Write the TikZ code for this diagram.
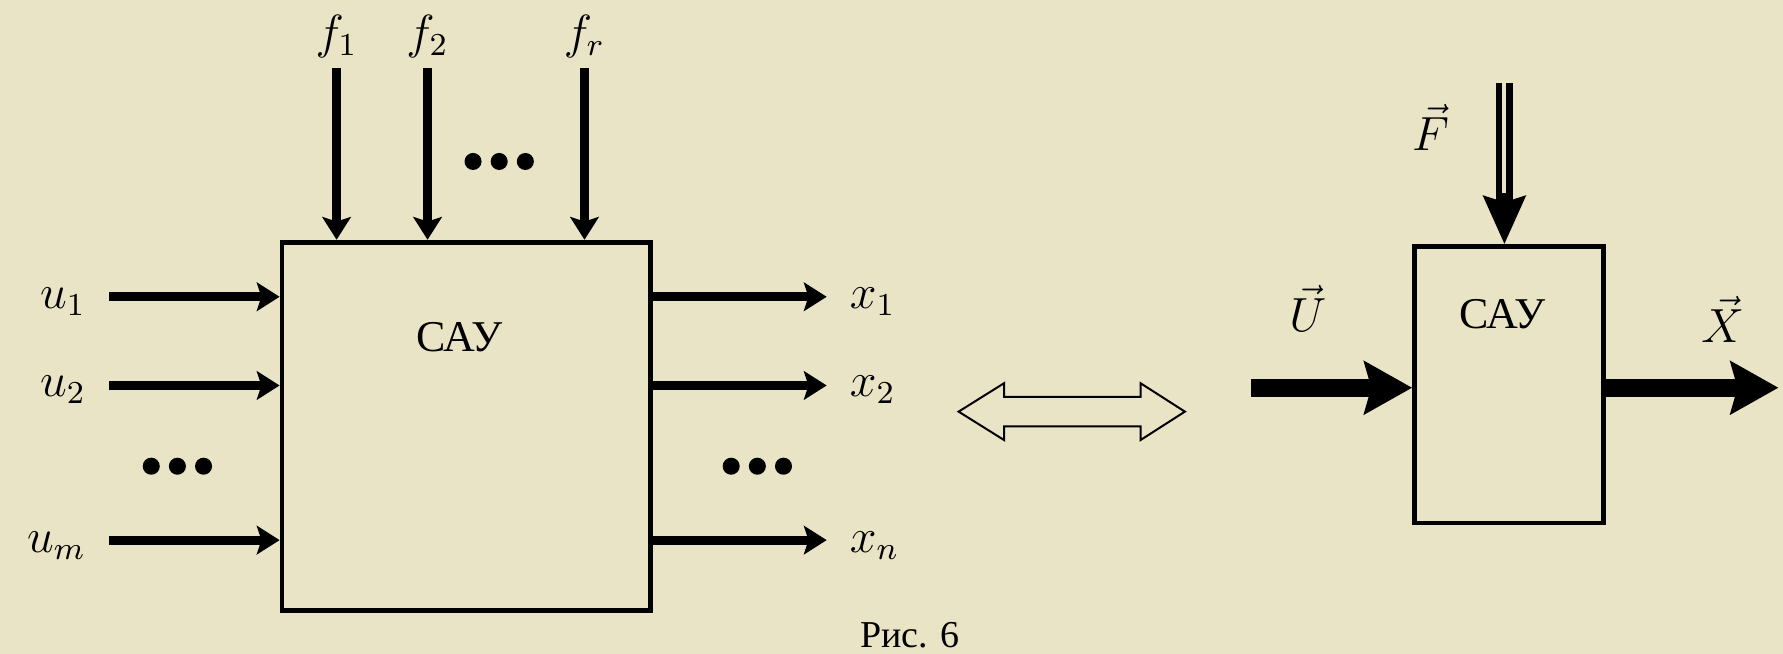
\documentclass[tikz,border=0pt]{standalone}
\usepackage{fontspec}
\setmainfont{Liberation Serif}
\usepackage{amsmath}
\usetikzlibrary{arrows.meta,positioning}
\definecolor{paper}{RGB}{234,228,198}

\begin{document}
\begin{tikzpicture}[font=\fontsize{12}{14}\selectfont,
  block/.style={draw, line width=1.2pt, inner sep=0pt},
  sig/.style={-{Stealth[length=0.2cm,width=0.25cm,inset=0.04cm]}, line width=2.2pt},
  bus/.style={-{Stealth[length=0.42cm,width=0.46cm,inset=0.06cm]}, line width=4.5pt},
  dblarrow/.style={-{Stealth[length=0.42cm,width=0.36cm,inset=0.05cm]}, line width=4.2pt},
  boxtitle/.style={font=\fontsize{11}{13}\selectfont},
  dot/.style={fill=black}]
  \fill[paper] (0,0) rectangle (15.68,5.75);
  \useasboundingbox (0,0) rectangle (15.68,5.75);

  % many inputs / many outputs
  \node [block, minimum width=3.24cm, minimum height=3.24cm] (sys) at (4.10,2.00) {};
  \node [boxtitle, below=0.6cm of sys.north, xshift=-0.06cm] (sysname) {САУ};

  \coordinate (f1) at (2.96,5.15);
  \coordinate (f2) at (3.76,5.15);
  \coordinate (fr) at (5.14,5.15);
  \node [above=-1pt of f1] (lf1) {$f_1$};
  \node [above=-1pt of f2] (lf2) {$f_2$};
  \node [above=-1pt of fr] (lfr) {$f_r$};
  \draw[sig] (f1) -- (f1 |- sys.north);
  \draw[sig] (f2) -- (f2 |- sys.north);
  \draw[sig] (fr) -- (fr |- sys.north);

  \coordinate (u1) at (0.96,3.14);
  \coordinate (u2) at (0.96,2.36);
  \coordinate (um) at (0.96,1.00);
  \node [left=0.08cm of u1, yshift=-0.04cm] (lu1) {$u_1$};
  \node [left=0.08cm of u2, yshift=-0.04cm] (lu2) {$u_2$};
  \node [left=0.08cm of um, yshift=-0.05cm] (lum) {$u_m$};
  \draw[sig] (u1) -- (u1 -| sys.west);
  \draw[sig] (u2) -- (u2 -| sys.west);
  \draw[sig] (um) -- (um -| sys.west);

  \coordinate (x1) at (7.27,3.14);
  \coordinate (x2) at (7.27,2.36);
  \coordinate (xn) at (7.27,1.00);
  \node [right=0.08cm of x1, yshift=-0.04cm] (lx1) {$x_1$};
  \node [right=0.08cm of x2, yshift=-0.04cm] (lx2) {$x_2$};
  \node [right=0.08cm of xn, yshift=-0.05cm] (lxn) {$x_n$};
  \draw[sig] (x1 -| sys.east) -- (x1);
  \draw[sig] (x2 -| sys.east) -- (x2);
  \draw[sig] (xn -| sys.east) -- (xn);

  \coordinate (dtop) at (4.39,4.33);
  \coordinate (dleft) at (1.56,1.65);
  \coordinate (dright) at (6.66,1.65);
  \foreach \c in {dtop,dleft,dright}
    \foreach \d in {-1,0,1}
      \fill[dot] (\c) ++(\d*0.23,0) circle (0.075);

  % equivalence
  \draw[line width=0.5pt, fill=paper] (8.43,2.13) -- ++(0.40,0.25) -- ++(0,-0.12) -- ++(1.20,0)
    -- ++(0,0.12) -- ++(0.39,-0.25) -- ++(-0.39,-0.25) -- ++(0,0.12) -- ++(-1.20,0)
    -- ++(0,-0.12) -- cycle;

  % vector form
  \node [block, minimum width=1.66cm, minimum height=2.43cm] (vsys) at (13.27,2.365) {};
  \node [boxtitle, below=0.36cm of vsys.north, xshift=-0.06cm] (vsysname) {САУ};

  \coordinate (F) at (13.23,5.02);
  \coordinate (U) at (11.00,2.34);
  \coordinate (X) at (15.64,2.34);
  \node (lF) at (12.58,4.63) {$\vec{F}$};
  \node (lU) at (11.50,3.04) {$\vec{U}$};
  \node (lX) at (15.15,2.94) {$\vec{X}$};
  \draw[dblarrow] (F) -- (F |- vsys.north);
  \draw[paper, line width=1pt, shorten >=0.45cm] (F) -- (F |- vsys.north);
  \draw[bus] (U) -- (U -| vsys.west);
  \draw[bus] (X -| vsys.east) -- (X);

  \node [font=\fontsize{9.5}{11}\selectfont] (cap) at (8.00,0.16) {Рис. 6};
\end{tikzpicture}
\end{document}
